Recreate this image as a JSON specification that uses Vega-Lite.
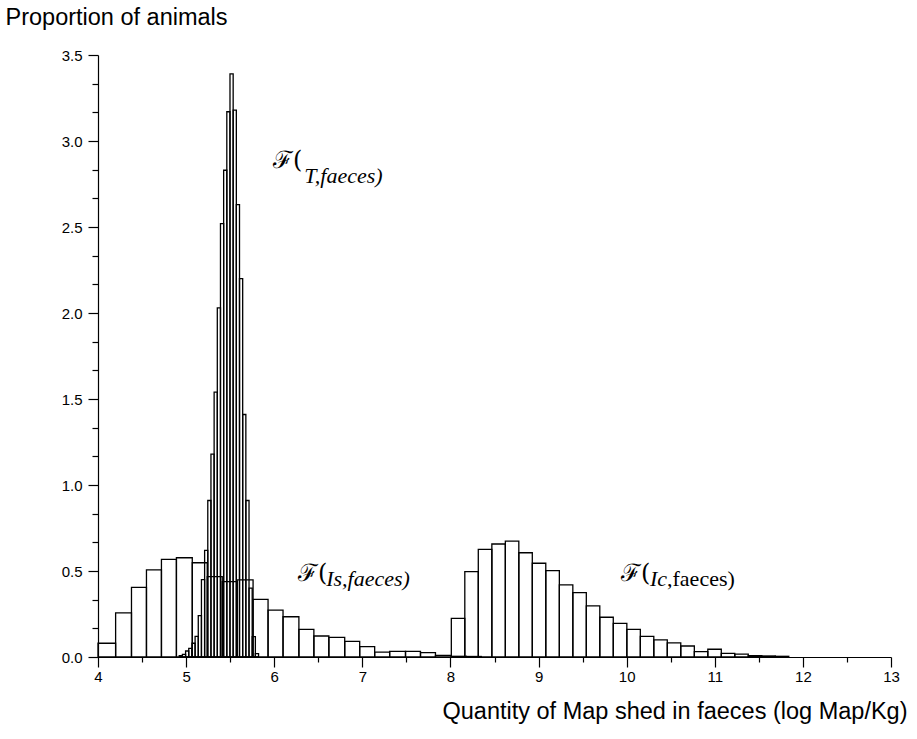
{
  "$schema": "https://vega.github.io/schema/vega-lite/v6.json",
  "width": 793,
  "height": 602,
  "autosize": {"type": "none"},
  "padding": {"left": 98, "top": 55, "right": 26, "bottom": 82},
  "background": "white",
  "config": {
    "view": {"stroke": null},
    "axis": {
      "grid": false,
      "domainColor": "black",
      "domainWidth": 1.2,
      "tickColor": "black",
      "tickWidth": 1.2,
      "labelColor": "black",
      "labelFont": "Liberation Sans",
      "labelFontSize": 15,
      "labelFlush": false,
      "labelOverlap": false,
      "titleColor": "black",
      "titleFont": "Liberation Sans",
      "titleFontSize": 23.5,
      "titleFontWeight": "normal"
    }
  },
  "resolve": {"axis": {"x": "independent", "y": "independent"}},
  "datasets": {
    "bars": [
      {"group": "Is", "x0": 4.00, "x1": 4.20, "p": 0.080},
      {"group": "Is", "x0": 4.20, "x1": 4.38, "p": 0.257},
      {"group": "Is", "x0": 4.38, "x1": 4.55, "p": 0.405},
      {"group": "Is", "x0": 4.55, "x1": 4.72, "p": 0.506},
      {"group": "Is", "x0": 4.72, "x1": 4.89, "p": 0.568},
      {"group": "Is", "x0": 4.89, "x1": 5.07, "p": 0.577},
      {"group": "Is", "x0": 5.07, "x1": 5.24, "p": 0.548},
      {"group": "Is", "x0": 5.24, "x1": 5.41, "p": 0.467},
      {"group": "Is", "x0": 5.41, "x1": 5.58, "p": 0.438},
      {"group": "Is", "x0": 5.58, "x1": 5.76, "p": 0.448},
      {"group": "Is", "x0": 5.76, "x1": 5.93, "p": 0.335},
      {"group": "Is", "x0": 5.93, "x1": 6.10, "p": 0.273},
      {"group": "Is", "x0": 6.10, "x1": 6.28, "p": 0.234},
      {"group": "Is", "x0": 6.28, "x1": 6.45, "p": 0.161},
      {"group": "Is", "x0": 6.45, "x1": 6.62, "p": 0.122},
      {"group": "Is", "x0": 6.62, "x1": 6.80, "p": 0.114},
      {"group": "Is", "x0": 6.80, "x1": 6.97, "p": 0.091},
      {"group": "Is", "x0": 6.97, "x1": 7.14, "p": 0.060},
      {"group": "Is", "x0": 7.14, "x1": 7.31, "p": 0.028},
      {"group": "Is", "x0": 7.31, "x1": 7.49, "p": 0.033},
      {"group": "Is", "x0": 7.49, "x1": 7.66, "p": 0.033},
      {"group": "Is", "x0": 7.66, "x1": 7.83, "p": 0.025},
      {"group": "Is", "x0": 7.83, "x1": 8.01, "p": 0.010},
      {"group": "Is", "x0": 8.01, "x1": 8.18, "p": 0.004},
      {"group": "Is", "x0": 8.18, "x1": 8.35, "p": 0.003},

      {"group": "T", "x0": 4.922, "x1": 4.958, "p": 0.008},
      {"group": "T", "x0": 4.958, "x1": 4.994, "p": 0.015},
      {"group": "T", "x0": 4.994, "x1": 5.030, "p": 0.035},
      {"group": "T", "x0": 5.030, "x1": 5.066, "p": 0.050},
      {"group": "T", "x0": 5.066, "x1": 5.102, "p": 0.080},
      {"group": "T", "x0": 5.102, "x1": 5.138, "p": 0.120},
      {"group": "T", "x0": 5.138, "x1": 5.174, "p": 0.240},
      {"group": "T", "x0": 5.174, "x1": 5.210, "p": 0.450},
      {"group": "T", "x0": 5.210, "x1": 5.246, "p": 0.620},
      {"group": "T", "x0": 5.246, "x1": 5.282, "p": 0.910},
      {"group": "T", "x0": 5.282, "x1": 5.318, "p": 1.180},
      {"group": "T", "x0": 5.318, "x1": 5.354, "p": 1.540},
      {"group": "T", "x0": 5.354, "x1": 5.390, "p": 2.030},
      {"group": "T", "x0": 5.390, "x1": 5.426, "p": 2.520},
      {"group": "T", "x0": 5.426, "x1": 5.462, "p": 2.830},
      {"group": "T", "x0": 5.462, "x1": 5.498, "p": 3.170},
      {"group": "T", "x0": 5.498, "x1": 5.534, "p": 3.390},
      {"group": "T", "x0": 5.534, "x1": 5.570, "p": 3.180},
      {"group": "T", "x0": 5.570, "x1": 5.606, "p": 2.630},
      {"group": "T", "x0": 5.606, "x1": 5.642, "p": 2.200},
      {"group": "T", "x0": 5.642, "x1": 5.678, "p": 1.410},
      {"group": "T", "x0": 5.678, "x1": 5.714, "p": 0.910},
      {"group": "T", "x0": 5.714, "x1": 5.750, "p": 0.400},
      {"group": "T", "x0": 5.750, "x1": 5.786, "p": 0.118},
      {"group": "T", "x0": 5.786, "x1": 5.822, "p": 0.020},

      {"group": "Ic", "x0": 8.010, "x1": 8.163, "p": 0.225},
      {"group": "Ic", "x0": 8.163, "x1": 8.316, "p": 0.496},
      {"group": "Ic", "x0": 8.316, "x1": 8.470, "p": 0.626},
      {"group": "Ic", "x0": 8.470, "x1": 8.623, "p": 0.657},
      {"group": "Ic", "x0": 8.623, "x1": 8.776, "p": 0.674},
      {"group": "Ic", "x0": 8.776, "x1": 8.929, "p": 0.606},
      {"group": "Ic", "x0": 8.929, "x1": 9.082, "p": 0.545},
      {"group": "Ic", "x0": 9.082, "x1": 9.236, "p": 0.502},
      {"group": "Ic", "x0": 9.236, "x1": 9.389, "p": 0.419},
      {"group": "Ic", "x0": 9.389, "x1": 9.542, "p": 0.374},
      {"group": "Ic", "x0": 9.542, "x1": 9.695, "p": 0.297},
      {"group": "Ic", "x0": 9.695, "x1": 9.848, "p": 0.231},
      {"group": "Ic", "x0": 9.848, "x1": 10.002, "p": 0.196},
      {"group": "Ic", "x0": 10.002, "x1": 10.155, "p": 0.161},
      {"group": "Ic", "x0": 10.155, "x1": 10.308, "p": 0.120},
      {"group": "Ic", "x0": 10.308, "x1": 10.461, "p": 0.100},
      {"group": "Ic", "x0": 10.461, "x1": 10.614, "p": 0.082},
      {"group": "Ic", "x0": 10.614, "x1": 10.768, "p": 0.064},
      {"group": "Ic", "x0": 10.768, "x1": 10.921, "p": 0.031},
      {"group": "Ic", "x0": 10.921, "x1": 11.074, "p": 0.045},
      {"group": "Ic", "x0": 11.074, "x1": 11.227, "p": 0.021},
      {"group": "Ic", "x0": 11.227, "x1": 11.380, "p": 0.017},
      {"group": "Ic", "x0": 11.380, "x1": 11.534, "p": 0.008},
      {"group": "Ic", "x0": 11.534, "x1": 11.687, "p": 0.006},
      {"group": "Ic", "x0": 11.687, "x1": 11.840, "p": 0.004}
    ],
    "labels": [
      {"kind": "sym", "text": "ℱ(", "x": 5.986, "y": 2.843},
      {"kind": "ital", "text": "T,faeces)", "x": 6.340, "y": 2.756},
      {"kind": "sym", "text": "ℱ(", "x": 6.270, "y": 0.442},
      {"kind": "ital", "text": "Is,faeces)", "x": 6.590, "y": 0.413},
      {"kind": "sym", "text": "ℱ(", "x": 9.936, "y": 0.442},
      {"kind": "ital", "text": "Ic", "x": 10.265, "y": 0.413},
      {"kind": "roman", "text": ",faeces)", "x": 10.458, "y": 0.413}
    ]
  },
  "layer": [
    {
      "data": {"name": "bars"},
      "mark": {"type": "rect", "filled": false, "stroke": "black", "strokeWidth": 1.3},
      "encoding": {
        "x": {
          "field": "x0",
          "type": "quantitative",
          "scale": {"domain": [4, 13], "nice": false, "zero": false},
          "axis": {
            "orient": "bottom",
            "values": [4, 5, 6, 7, 8, 9, 10, 11, 12, 13],
            "format": "d",
            "tickSize": 10,
            "labelPadding": 2,
            "labelOverlap": false,
            "title": "Quantity of Map shed in faeces (log Map/Kg)",
            "titleX": 809,
            "titleY": 61,
            "titleAlign": "right",
            "titleBaseline": "alphabetic"
          }
        },
        "x2": {"field": "x1"},
        "y": {
          "field": "p",
          "type": "quantitative",
          "scale": {"domain": [0, 3.5], "nice": false, "zero": true},
          "axis": {
            "orient": "left",
            "values": [0, 0.5, 1, 1.5, 2, 2.5, 3, 3.5],
            "format": ".1f",
            "tickSize": 10,
            "labelPadding": 6,
            "labelOverlap": false,
            "title": "Proportion of animals",
            "titleAngle": 0,
            "titleX": -93,
            "titleY": -31,
            "titleAlign": "left",
            "titleBaseline": "alphabetic"
          }
        },
        "y2": {"datum": 0}
      }
    },
    {
      "data": {"name": "bars"},
      "mark": {"type": "point", "opacity": 0},
      "encoding": {
        "x": {
          "field": "x0",
          "type": "quantitative",
          "axis": {
            "orient": "bottom",
            "values": [4.5, 5.5, 6.5, 7.5, 8.5, 9.5, 10.5, 11.5, 12.5],
            "labels": false,
            "domain": false,
            "tickSize": 5,
            "title": null
          }
        },
        "y": {
          "field": "p",
          "type": "quantitative",
          "axis": {
            "orient": "left",
            "values": [0.166667, 0.333333, 0.666667, 0.833333, 1.166667, 1.333333, 1.666667, 1.833333, 2.166667, 2.333333, 2.666667, 2.833333, 3.166667, 3.333333],
            "labels": false,
            "domain": false,
            "tickSize": 6,
            "title": null
          }
        }
      }
    },
    {
      "data": {"name": "labels"},
      "transform": [{"filter": "datum.kind === 'sym'"}],
      "mark": {"type": "text", "font": "DejaVu Serif", "fontSize": 24, "align": "left", "baseline": "alphabetic", "color": "black"},
      "encoding": {
        "x": {"field": "x", "type": "quantitative", "axis": null},
        "y": {"field": "y", "type": "quantitative", "axis": null},
        "text": {"field": "text"}
      }
    },
    {
      "data": {"name": "labels"},
      "transform": [{"filter": "datum.kind === 'ital'"}],
      "mark": {"type": "text", "font": "Liberation Serif", "fontStyle": "italic", "fontSize": 22, "align": "left", "baseline": "alphabetic", "color": "black"},
      "encoding": {
        "x": {"field": "x", "type": "quantitative", "axis": null},
        "y": {"field": "y", "type": "quantitative", "axis": null},
        "text": {"field": "text"}
      }
    },
    {
      "data": {"name": "labels"},
      "transform": [{"filter": "datum.kind === 'roman'"}],
      "mark": {"type": "text", "font": "Liberation Serif", "fontSize": 22, "align": "left", "baseline": "alphabetic", "color": "black"},
      "encoding": {
        "x": {"field": "x", "type": "quantitative", "axis": null},
        "y": {"field": "y", "type": "quantitative", "axis": null},
        "text": {"field": "text"}
      }
    }
  ]
}
